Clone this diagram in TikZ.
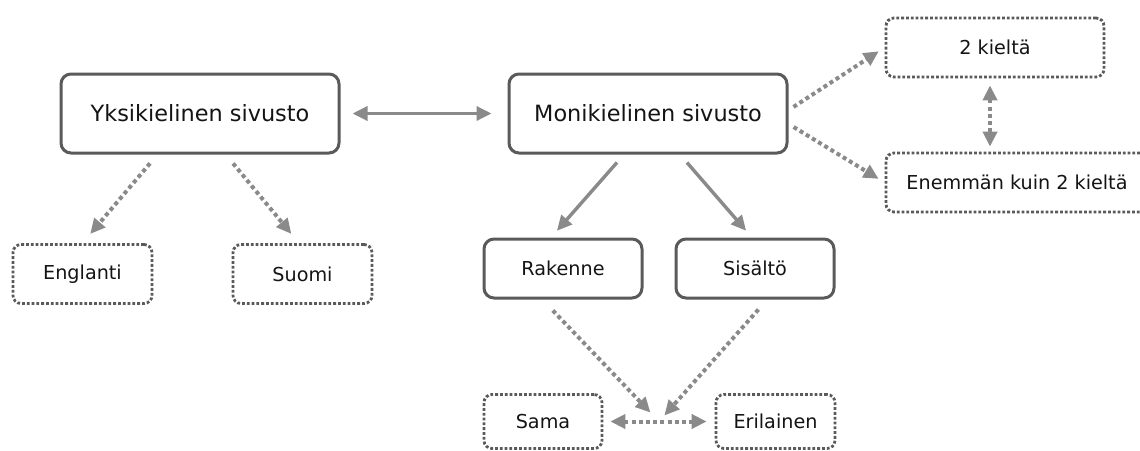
\documentclass[tikz,border=0pt]{standalone}
\usepackage{fontspec}
\setmainfont{DejaVu Sans}
\usepackage{xcolor}
\usetikzlibrary{arrows.meta, positioning, calc}
\definecolor{boxgray}{HTML}{5A5A5A}
\definecolor{arrgray}{HTML}{8A8A8A}
\definecolor{txtgray}{HTML}{141414}

\begin{document}
\begin{tikzpicture}[x=0.5pt, y=-0.5pt,
          >={Triangle[length=7.5pt, width=7pt]},
          box/.style={rectangle, rounded corners=5pt, draw=boxgray, line width=1.5pt,
                      text=txtgray, inner sep=0pt, align=center},
          big/.style={box, minimum width=139pt, minimum height=39.5pt,
                      font=\fontsize{11.2}{13}\selectfont},
          small/.style={box, minimum width=79pt, minimum height=29.5pt,
                      font=\fontsize{9.6}{11}\selectfont},
          dbox/.style={small, rounded corners=4pt, line width=1.4pt,
                      dash pattern=on 1.4pt off 1pt},
          arr/.style={->, line width=1.7pt, arrgray},
          darr/.style={arr, line width=2pt, dash pattern=on 2pt off 1.6pt}]
          \path[fill=white, use as bounding box] (0,0) rectangle (1140,450);
          % boxes
          \node[big] (yksi) at (200,113.5) {Yksikielinen sivusto};
          \node[big] (moni) at (648,113.5) {Monikielinen sivusto};
          \node[dbox, minimum width=109pt] (kaksi) at (995,47.5) {2 kieltä};
          \node[dbox, minimum width=131pt] (enemman) at (1017,182.5) {Enemmän kuin 2 kieltä};
          \node[dbox, minimum width=69.5pt] (englanti) at (82.5,274) {Englanti};
          \node[dbox, minimum width=69.5pt] (suomi) at (302.5,274) {Suomi};
          \node[small] (rakenne) at (563,268.5) {Rakenne};
          \node[small] (sisalto) at (755,268.5) {Sisältö};
          \node[dbox, minimum width=59pt, minimum height=27pt] (sama) at (543,421.5) {Sama};
          \node[dbox, minimum width=59.5pt, minimum height=27pt] (erilainen) at (775.5,421.5) {Erilainen};
          \coordinate (yhdessa) at ($(sama.east)!0.5!(erilainen.west)$);
          % connectors
          \draw[arr, <->, shorten <=6pt, shorten >=8pt] (yksi) -- (moni);
          \draw[darr, shorten <=5.8pt, shorten >=6pt] ([xshift=-21.25pt]yksi.south) -- (englanti.north);
          \draw[darr, shorten <=5.8pt, shorten >=6pt] ([xshift=12.85pt]yksi.south) -- ([xshift=-1.75pt]suomi.north);
          \draw[arr, shorten <=5.3pt, shorten >=4.5pt] ([xshift=-12pt]moni.south) -- ([xshift=-6pt]rakenne.north);
          \draw[arr, shorten <=5.3pt, shorten >=4.5pt] ([xshift=16pt]moni.south) -- ([xshift=-1.5pt]sisalto.north);
          \draw[darr, shorten <=3pt, shorten >=3.5pt] ([yshift=1.65pt]moni.east) -- (kaksi.west);
          \draw[darr, shorten <=3pt, shorten >=3.5pt] ([yshift=-5.2pt]moni.east) -- (enemman.west);
          \draw[darr, <->, shorten <=3.5pt, shorten >=2.5pt] ([xshift=-2.5pt]kaksi.south)
               -- ([xshift=-2.5pt]kaksi.south |- enemman.north);
          \draw[darr, shorten <=7.6pt, shorten >=6.2pt] ([xshift=-10.35pt]rakenne.south) -- (yhdessa);
          \draw[darr, shorten <=6.7pt, shorten >=4pt] ([xshift=6.15pt]sisalto.south) -- (yhdessa);
          \draw[darr, <->, shorten <=3.5pt, shorten >=4pt] (sama) -- (erilainen);
        \end{tikzpicture}
\end{document}
